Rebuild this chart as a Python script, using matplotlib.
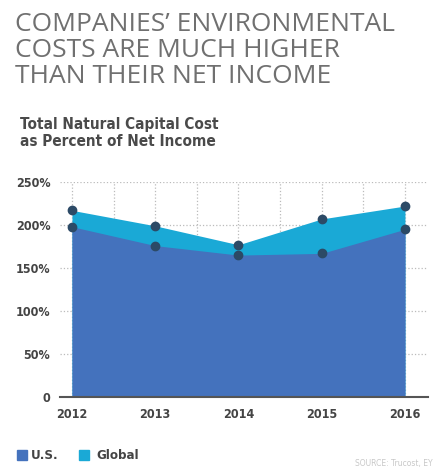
import matplotlib.pyplot as plt
import matplotlib.font_manager as fm
import numpy as np

years = [2012, 2013, 2014, 2015, 2016]
us = [198, 176, 165, 167, 195]
glob = [217, 199, 177, 207, 222]
yticks = [0, 50, 100, 150, 200, 250]
ylabels = ['0', '50%', '100%', '150%', '200%', '250%']

c_us = '#4472bd'
c_gl = '#1aa9d6'
c_dot = '#2c4a66'

# look for a narrow family that has a bold face
bold_narrow = [f for f in fm.fontManager.ttflist
               if ('Narrow' in f.name or 'Condensed' in f.name or f.stretch in ('condensed', 'semi-condensed'))
               and f.weight in ('bold', 700, 'heavy', 800)]
if bold_narrow:
    bfont = fm.FontProperties(fname=bold_narrow[0].fname)
else:
    bfont = fm.FontProperties(family='Roboto', weight='bold')

fig = plt.figure(figsize=(4.46, 4.75), dpi=100)

# title
fig.text(0.034, 0.974, "COMPANIES\u2019 ENVIRONMENTAL\nCOSTS ARE MUCH HIGHER\nTHAN THEIR NET INCOME",
         ha='left', va='top', fontsize=19, color='#707070', family=['Open Sans', 'DejaVu Sans'],
         linespacing=1.05)

def bt(x, y, s, size, **kw):
    fp = bfont.copy()
    fp.set_size(size)
    return fig.text(x, y, s, fontproperties=fp, **kw)

bt(0.045, 0.753, "Total Natural Capital Cost\nas Percent of Net Income", 11,
   ha='left', va='top', color='#4a4a4a', linespacing=1.12)

ax = fig.add_axes([0.1345, 0.164, 0.825, 0.453])
ax.fill_between(years, glob, color=c_gl, zorder=2, lw=0)
ax.fill_between(years, us, color=c_us, zorder=3, lw=0)
ax.plot(years, glob, 'o', color=c_dot, ms=6, zorder=4)
ax.plot(years, us, 'o', color=c_dot, ms=6, zorder=4)

ax.set_xlim(2011.856, 2016.276)
ax.set_ylim(0, 250)
ax.set_xticks(years)
ax.set_xticks(np.arange(2012.5, 2016, 1), minor=True)
ax.set_yticks(yticks)
ax.set_yticklabels(ylabels)
ax.grid(True, which='both', color='#bbbbbb', ls=':', lw=0.9, zorder=1)

for s in ['top', 'right', 'left']:
    ax.spines[s].set_visible(False)
ax.spines['bottom'].set_color('#555555')
ax.spines['bottom'].set_linewidth(1.5)
ax.spines['bottom'].set_zorder(5)
ax.tick_params(axis='both', which='both', length=0, labelcolor='#444444')
ax.tick_params(axis='x', pad=8)
ax.tick_params(axis='y', pad=7)
tfp = bfont.copy()
tfp.set_size(9)
for lab in ax.get_xticklabels() + ax.get_yticklabels():
    lab.set_fontproperties(tfp)

# legend
fig.patches.append(plt.Rectangle((0.038, 0.032), 0.022, 0.021, color=c_us, transform=fig.transFigure))
bt(0.07, 0.042, "U.S.", 9.5, color='#444444', va='center')
fig.patches.append(plt.Rectangle((0.178, 0.032), 0.022, 0.021, color=c_gl, transform=fig.transFigure))
bt(0.215, 0.042, "Global", 9.5, color='#444444', va='center')
fig.text(0.795, 0.025, "SOURCE: Trucost, EY", fontsize=5.5, color='#c8c8c8',
         family=['Liberation Sans Narrow', 'DejaVu Sans'], va='center')

fig.savefig('out.png', dpi=100)
